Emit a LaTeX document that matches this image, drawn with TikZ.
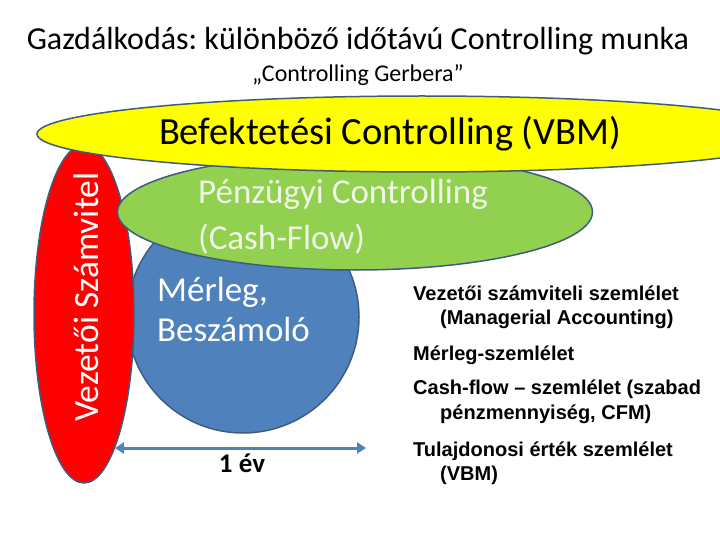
\documentclass[tikz,border=0pt]{standalone}
\usepackage{fontspec}
\setmainfont{Carlito}
\newfontfamily\arialf{Liberation Sans}
\usetikzlibrary{shapes.geometric,arrows.meta}
\frenchspacing
\definecolor{yelF}{HTML}{FFFF00}
\definecolor{redF}{HTML}{FF0000}
\definecolor{greF}{HTML}{92D050}
\definecolor{bluF}{HTML}{4F81BD}
\definecolor{edgeC}{HTML}{3E5C80}
\definecolor{paleT}{HTML}{F0F6E6}
\tikzset{
  blob/.style={draw=edgeC, line width=1.5pt, inner sep=0pt, outer sep=0pt},
  oval/.style={blob, ellipse},
  rtext/.style={anchor=base west, font=\arialf\bfseries\fontsize{20}{24}\selectfont, inner sep=0pt},
  big/.style={font=\fontsize{35}{42}\selectfont, inner sep=0pt}
}
\begin{document}
\begin{tikzpicture}[x=1pt,y=-1pt]
\useasboundingbox (0,0) rectangle (720,540);
% shapes
\node[blob, circle, fill=bluF, minimum size=232pt] (blue) at (243,317) {};
\node[oval, fill=redF, minimum width=100pt, minimum height=338pt] (red) at (84,314) {};
\node[oval, fill=greF, minimum width=475pt, minimum height=116pt] (green) at (355,212) {};
\node[oval, fill=yelF, minimum width=770pt, minimum height=76pt] (yellow) at (422,134) {};
% titles
\node[anchor=base, font=\fontsize{32}{38}\selectfont, inner sep=0pt] (title) at (358,50) {Gazdálkodás: különböző időtávú Controlling munka};
\node[anchor=base, font=\fontsize{24}{29}\selectfont, inner sep=0pt] (sub) at (358,82) {„Controlling Gerbera”};
% shape texts
\node[anchor=base, font=\fontsize{38.5}{46}\selectfont, inner sep=0pt] (ytext) at (390,145) {Befektetési Controlling (VBM)};
\node[big, anchor=base west, text=paleT] (g1) at (198,204) {Pénzügyi Controlling};
\node[big, anchor=base west, text=paleT] (g2) at (198,249) {(Cash-Flow)};
\node[big, anchor=base west, text=white] (b1) at (157,301) {Mérleg,};
\node[big, anchor=base west, text=white] (b2) at (157,341) {Beszámoló};
\node[font=\fontsize{35.5}{42}\selectfont, inner sep=0pt, text=white, rotate=90] (rtxt) at (86,297) {Vezetői Számvitel};
% arrow
\coordinate (aL) at (115,448);
\coordinate (aR) at (366,448);
\draw[bluF, line width=3pt, {Triangle[length=9pt,width=11pt]}-{Triangle[length=9pt,width=11pt]}] (aL) -- (aR);
\node[anchor=base, font=\bfseries\fontsize{27}{32}\selectfont, inner sep=0pt] (ev) at (242,472) {1 év};
% right list
\node[rtext] (l1) at (413,300) {Vezetői számviteli szemlélet};
\node[rtext] (l2) at (440,324) {(Managerial Accounting)};
\node[rtext] (l3) at (413,360) {Mérleg-szemlélet};
\node[rtext] (l4) at (413,394) {Cash-flow – szemlélet (szabad};
\node[rtext] (l5) at (440,419) {pénzmennyiség, CFM)};
\node[rtext] (l6) at (413,456) {Tulajdonosi érték szemlélet};
\node[rtext] (l7) at (440,480) {(VBM)};
\end{tikzpicture}
\end{document}
